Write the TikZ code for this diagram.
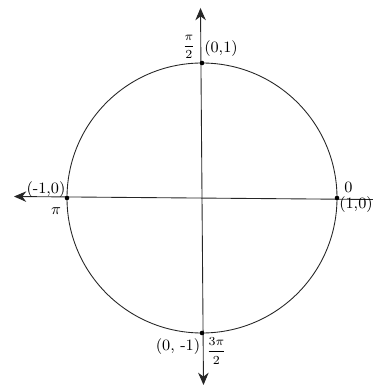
\documentclass[tikz,border=0pt]{standalone}
\usepackage{amsmath, amssymb}
\usepackage{tikz}
\usetikzlibrary{arrows.meta, positioning}

\begin{document}
\begin{tikzpicture}[
  every node/.style={font=\small, inner sep=0pt},
  dot/.style={circle, fill=black, minimum size=2.6pt},
  axisline/.style={draw=black!85, line width=0.5pt}
]
  \useasboundingbox (-4.04,-3.78) rectangle (3.42,3.96);

  \coordinate (o) at (0,0);
  \coordinate (xl) at (-3.76,0.03);
  \coordinate (xr) at (3.42,-0.03);
  \coordinate (yt) at (-0.03,3.80);
  \coordinate (yb) at (0.03,-3.74);

  \draw[black!85, line width=0.5pt] (o) circle (2.7);
  \draw[axisline, -{Stealth[length=7pt, width=6pt]}] (xr) -- (xl);
  \draw[axisline, {Stealth[length=7pt, width=6pt]}-{Stealth[length=7pt, width=6pt]}] (yb) -- (yt);

  \node[dot] (p0) at (2.7,0) {};
  \node[dot] (p1) at (0,2.7) {};
  \node[dot] (p2) at (-2.7,0) {};
  \node[dot] (p3) at (0,-2.7) {};

  \node (a0) at (2.93,0.22) {0};
  \node (c0) at (3.08,-0.13) {(1,0)};
  \node (a1) at (-0.26,3.02) {\scriptsize$\dfrac{\pi}{2}$};
  \node (c1) at (0.38,2.98) {(0,1)};
  \node (c2) at (-3.12,0.17) {(-1,0)};
  \node (a2) at (-2.92,-0.26) {$\pi$};
  \node (c3) at (-0.48,-2.98) {(0, -1)};
  \node (a3) at (0.29,-3.06) {\scriptsize$\dfrac{3\pi}{2}$};
\end{tikzpicture}
\end{document}
